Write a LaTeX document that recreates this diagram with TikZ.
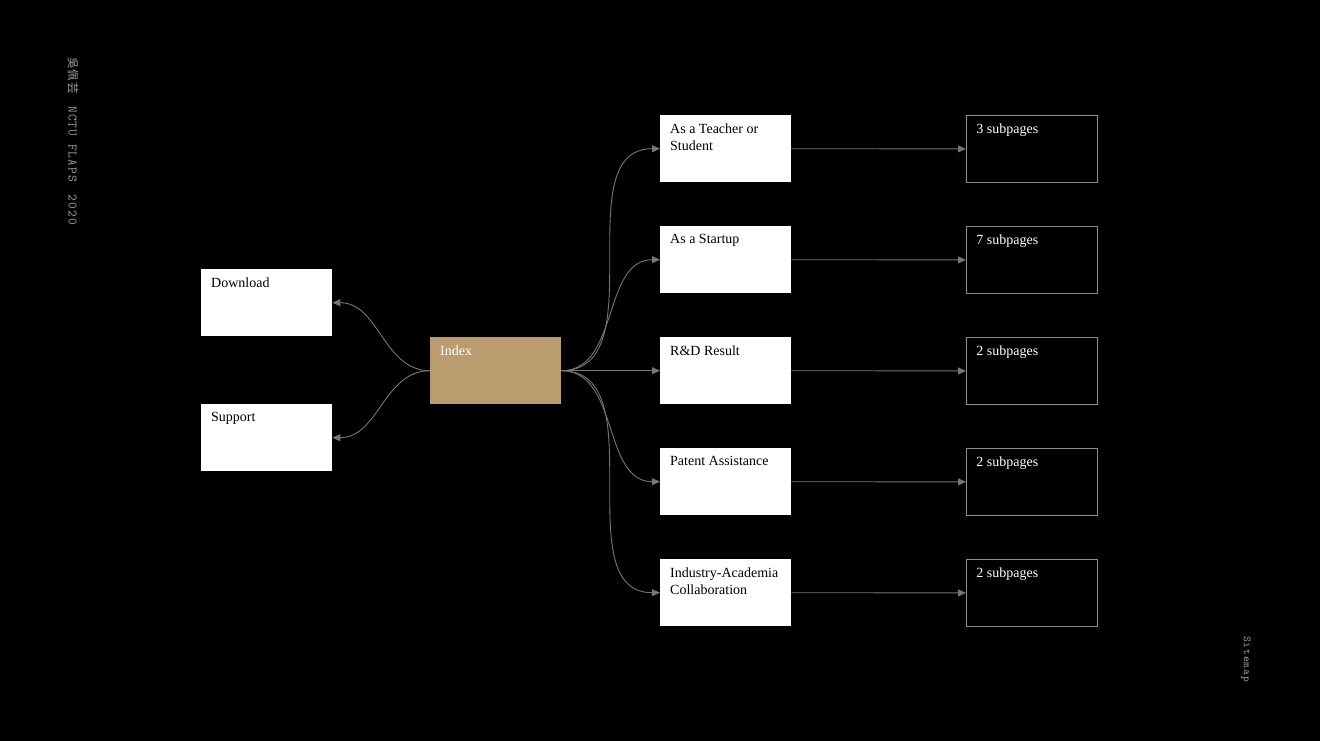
\documentclass[tikz,border=0pt]{standalone}
\usepackage{fontspec}
\setmainfont{Liberation Serif}
\newfontfamily\cjkfont{Noto Sans CJK TC}[LetterSpace=8]
\newfontfamily\monofont{Latin Modern Mono}[LetterSpace=8]
\usetikzlibrary{arrows.meta}
\definecolor{indexbrown}{RGB}{186,156,110}
\definecolor{linegray}{RGB}{118,118,118}
\definecolor{framegray}{RGB}{140,140,140}
\definecolor{sidegray}{RGB}{160,160,160}
\newcommand{\boxtext}[1]{\parbox[t][50pt][t]{111pt}{\raggedright #1}}
\tikzset{
  page/.style={fill=white, text=black, inner xsep=10pt, inner ysep=8.5pt,
    anchor=north west, font=\fontsize{14}{17}\selectfont},
  home/.style={page, fill=indexbrown, text=white},
  count/.style={page, fill=black, draw=framegray, line width=0.8pt, text=white},
  link/.style={draw=linegray, line width=0.9pt, -{Triangle[length=8pt,width=7pt]}},
  side/.style={text=sidegray, rotate=-90, anchor=west, inner sep=0pt}
}
\begin{document}
\begin{tikzpicture}[x=1pt, y=-1pt]
  \fill[black] (0, 0) rectangle (1320, 741) ;
  \useasboundingbox (0, 0) rectangle (1320, 741) ;
  % side titles
  \node[side, font=\monofont\fontsize{13}{13}\selectfont] (title) at (73, 57)
    {{\cjkfont\fontsize{11.5}{12}\selectfont 吳佩芸}\hspace{13pt}NCTU FLAPS\hspace{13pt}2020} ;
  \node[side, font=\monofont\fontsize{11}{11}\selectfont] (sitemap) at (1246, 636) {Sitemap} ;
  % left pages
  \node[page] (download) at (201, 269) {\boxtext{Download}} ;
  \node[page] (support) at (201, 404) {\boxtext{Support}} ;
  \node[home] (index) at (430, 337) {\boxtext{Index}} ;
  % main pages
  \node[page] (teacher) at (660, 115) {\boxtext{As a Teacher or Student}} ;
  \node[page] (startup) at (660, 226) {\boxtext{As a Startup}} ;
  \node[page] (result) at (660, 337) {\boxtext{R\&D Result}} ;
  \node[page] (patent) at (660, 448) {\boxtext{Patent Assistance}} ;
  \node[page] (industry) at (660, 559) {\boxtext{Industry-Academia Collaboration}} ;
  % subpage counts
  \node[count] (teachersub) at (966, 115) {\boxtext{3 subpages}} ;
  \node[count] (startupsub) at (966, 226) {\boxtext{7 subpages}} ;
  \node[count] (resultsub) at (966, 337) {\boxtext{2 subpages}} ;
  \node[count] (patentsub) at (966, 448) {\boxtext{2 subpages}} ;
  \node[count] (industrysub) at (966, 559) {\boxtext{2 subpages}} ;
  % connectors
  \draw[link] (index.west) to[out=180, in=0] (download.east) ;
  \draw[link] (index.west) to[out=180, in=0] (support.east) ;
  \foreach \p in {teacher, startup, result, patent, industry} {
    \draw[link] (index.east) to[out=0, in=180] (\p.west) ;
    \draw[link] (\p.east) -- (\p sub.west) ;
  }
\end{tikzpicture}
\end{document}
